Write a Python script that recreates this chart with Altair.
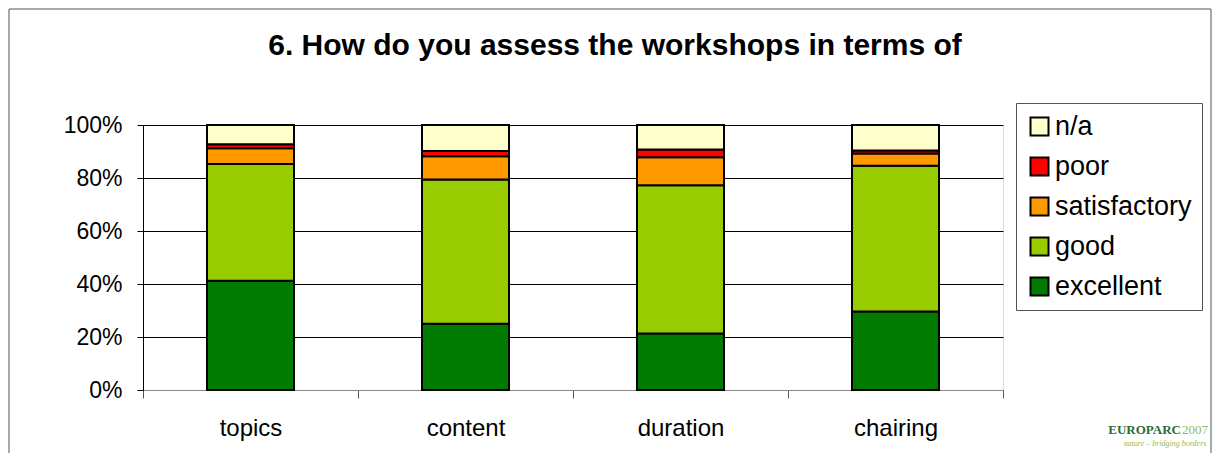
import altair as alt
import pandas as pd

categories = ["topics", "content", "duration", "chairing"]
ratings = ["excellent", "good", "satisfactory", "poor", "n/a"]
excellent = [41.2, 25.0, 21.3, 29.6]
good = [44.1, 54.4, 56.0, 55.0]
satisfactory = [5.9, 8.8, 10.5, 4.6]
poor = [1.5, 2.0, 3.0, 1.2]
na = [7.3, 9.8, 9.2, 9.6]

colors = {"n/a": "#FFFFCC", "poor": "#FF0000", "satisfactory": "#FF9900",
          "good": "#99CC00", "excellent": "#007A00"}

series = [excellent, good, satisfactory, poor, na]
rows = []
for r_i, (rating, vals) in enumerate(zip(ratings, series)):
    for c, v in zip(categories, vals):
        rows.append({"category": c, "rating": rating, "rank": r_i, "value": v / 100.0})
df = pd.DataFrame(rows)

FONT = "Liberation Sans"
legend_order = ["n/a", "poor", "satisfactory", "good", "excellent"]

bars = alt.Chart(df).mark_bar(size=87, stroke="black", strokeWidth=2).encode(
    x=alt.X("category:N", sort=categories, title=None,
            scale=alt.Scale(paddingInner=0, paddingOuter=0),
            axis=alt.Axis(labelAngle=0, labelFontSize=24, labelFont=FONT, labelColor="black",
                          tickBand="extent", tickSize=8, tickColor="#555555",
                          domainColor="#888888", labelPadding=18, grid=False)),
    y=alt.Y("value:Q", stack="zero", title=None,
            scale=alt.Scale(domain=[0, 1]),
            axis=alt.Axis(format=".0%", values=[0, 0.2, 0.4, 0.6, 0.8, 1.0],
                          labelFontSize=23, labelFont=FONT, labelColor="black",
                          tickSize=6, tickColor="black", domainColor="black",
                          gridColor="black", gridWidth=1, labelPadding=15)),
    color=alt.Color("rating:N",
                    scale=alt.Scale(domain=legend_order, range=[colors[k] for k in legend_order]),
                    legend=alt.Legend(title=None, orient="none", legendX=873, legendY=-22,
                                      symbolType="square", symbolSize=324, symbolStrokeColor="black",
                                      symbolStrokeWidth=2, labelFontSize=27, labelFont=FONT,
                                      labelColor="black", rowPadding=12, strokeColor="#555555",
                                      padding=10, labelOffset=2, fillColor="white")),
    order=alt.Order("rank:Q", sort="ascending"),
)

title = alt.Chart(pd.DataFrame({"t": ["6. How do you assess the workshops in terms of"]})).mark_text(
    fontSize=30, fontWeight="bold", font=FONT, align="center", baseline="alphabetic", color="black"
).encode(text="t:N", x=alt.value(472), y=alt.value(-70))

frame = alt.Chart(pd.DataFrame({"a": [0]})).mark_rect(
    fill=None, stroke="#555555", strokeWidth=1, clip=False
).encode(x=alt.value(-134), x2=alt.value(1068), y=alt.value(-116), y2=alt.value(340))

logo1 = alt.Chart(pd.DataFrame({"t": ["EUROPARC"]})).mark_text(
    fontSize=13, font="Liberation Serif", fontWeight="bold", color="#2E6B3A", align="right"
).encode(text="t:N", x=alt.value(1038), y=alt.value(305))
logo2 = alt.Chart(pd.DataFrame({"t": ["2007"]})).mark_text(
    fontSize=13, font="Liberation Serif", color="#8DBB5A", align="left"
).encode(text="t:N", x=alt.value(1039), y=alt.value(305))
logo3 = alt.Chart(pd.DataFrame({"t": ["nature – bridging borders"]})).mark_text(
    fontSize=8, font="Liberation Serif", fontStyle="italic", color="#8DBB5A", align="center"
).encode(text="t:N", x=alt.value(1022), y=alt.value(319))

chart = alt.layer(frame, bars, title, logo1, logo2, logo3).properties(
    width=860, height=265,
    padding={"left": 135, "top": 117, "right": 209, "bottom": 63},
    autosize=alt.AutoSizeParams(type="none"),
).configure_view(stroke="#888888", strokeWidth=1).configure(background="white")

chart.save("out.html", embed_options={"renderer": "svg", "actions": False})
